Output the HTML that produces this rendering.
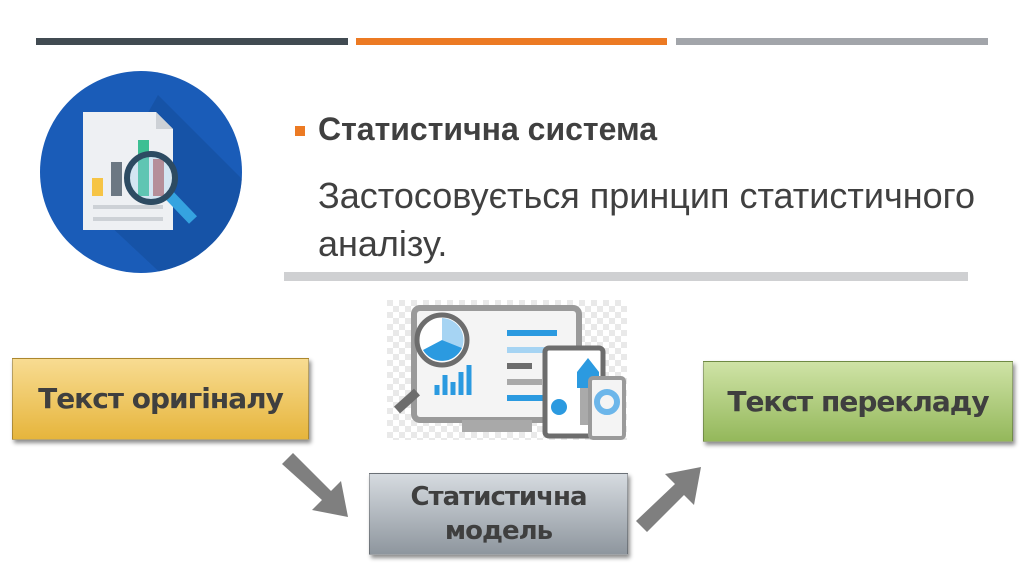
<!DOCTYPE html>
<html><head><meta charset="utf-8"><style>
body{margin:0;width:1024px;height:574px;background:#fff;position:relative;overflow:hidden;font-family:"Liberation Sans","DejaVu Sans",sans-serif}
.a{position:absolute}
.box{position:absolute;box-shadow:2px 3px 4px rgba(0,0,0,.45);border:1px solid rgba(0,0,0,.25);display:flex;align-items:center;justify-content:center;text-align:center;font-weight:bold;color:#3f3f3f;font-size:28px;line-height:34px;font-family:"DejaVu Sans","Liberation Sans",sans-serif;letter-spacing:-1px}
</style></head><body>
<div class="a" style="left:36px;top:38px;width:312px;height:7px;background:#414b52"></div>
<div class="a" style="left:356px;top:38px;width:311px;height:7px;background:#ec7a23"></div>
<div class="a" style="left:676px;top:38px;width:312px;height:7px;background:#a2a5aa"></div>

<svg class="a" style="left:38px;top:70px" width="206" height="206" viewBox="0 0 206 206">
<defs><clipPath id="c"><circle cx="103" cy="102" r="101"/></clipPath></defs>
<circle cx="103" cy="102" r="101" fill="#1a5cb8"/>
<polygon clip-path="url(#c)" points="120,25 210,115 210,210 130,210 55,140" fill="#15509f" opacity=".7"/>
<path d="M45 42 H118 L135 59 V160 H45 Z" fill="#eef0f3"/>
<path d="M118 42 V59 H135 Z" fill="#cdd1d6"/>
<rect x="54" y="108" width="11" height="18" fill="#f6c445"/>
<rect x="73" y="92" width="11" height="34" fill="#6c7883"/>
<rect x="100" y="70" width="11" height="56" fill="#3dbf93"/>
<rect x="115" y="89" width="11" height="37" fill="#c06b6b"/>
<rect x="55" y="135" width="70" height="4" fill="#cdd1d6"/>
<rect x="55" y="147" width="70" height="4" fill="#cdd1d6"/>
<line x1="132" y1="126" x2="155" y2="150" stroke="#35a3e0" stroke-width="11"/>
<circle cx="113" cy="108" r="24" fill="rgba(160,210,240,.35)" stroke="#2d4b62" stroke-width="6"/>
</svg>

<div class="a" style="left:295px;top:126px;width:10px;height:10px;background:#ec7a23"></div>
<div class="a" style="left:318px;top:111px;font-size:32px;font-weight:bold;color:#404040;white-space:nowrap">Статистична система</div>
<div class="a" style="left:318px;top:172px;font-size:36px;line-height:48px;color:#404040;width:700px;white-space:nowrap">Застосовується принцип статистичного<br>аналізу.</div>
<div class="a" style="left:284px;top:272px;width:684px;height:9px;background:#cfd0d2"></div>

<svg class="a" style="left:387px;top:300px" width="240" height="140" viewBox="0 0 240 140">
<defs><pattern id="p" width="12" height="12" patternUnits="userSpaceOnUse"><rect width="12" height="12" fill="#fff"/><rect width="6" height="6" fill="#e9e9e9"/><rect x="6" y="6" width="6" height="6" fill="#e9e9e9"/></pattern></defs>
<rect width="240" height="140" fill="url(#p)"/>
<rect x="27" y="8" width="165" height="112" rx="6" fill="#f4f4f4" stroke="#9a9a9a" stroke-width="6"/>
<rect x="75" y="120" width="70" height="12" fill="#a9a9a9"/>
<rect x="120" y="30" width="50" height="6" fill="#2b9ae0"/>
<rect x="120" y="47" width="40" height="6" fill="#a6d4f3"/>
<rect x="120" y="63" width="25" height="6" fill="#6d6d6d"/>
<rect x="120" y="79" width="35" height="6" fill="#a9a9a9"/>
<rect x="120" y="95" width="40" height="6" fill="#2b9ae0"/>
<path d="M50 95 V85 M58 95 V75 M66 95 V82 M74 95 V72 M82 95 V65" stroke="#2b9ae0" stroke-width="5"/>
<line x1="30" y1="92" x2="10" y2="110" stroke="#6d6d6d" stroke-width="9"/>
<circle cx="55" cy="40" r="25" fill="#fff" stroke="#6d6d6d" stroke-width="5"/>
<path d="M55 40 L55 18 A22 22 0 0 1 75 48 Z" fill="#a6d4f3"/><path d="M55 40 L75 48 A22 22 0 0 1 36 50 Z" fill="#2b9ae0"/>
<rect x="158" y="48" width="58" height="88" rx="4" fill="#fff" stroke="#6d6d6d" stroke-width="5"/>
<rect x="193" y="70" width="16" height="55" fill="#aaa"/><path d="M190 72 L201 58 L212 72 V88 H190 Z" fill="#2b9ae0"/>
<circle cx="172" cy="107" r="8" fill="#2b9ae0"/>
<rect x="203" y="78" width="34" height="60" rx="3" fill="#f4f4f4" stroke="#9a9a9a" stroke-width="4"/>
<circle cx="220" cy="102" r="10" fill="none" stroke="#6cb6ea" stroke-width="6"/>
</svg>

<div class="box" style="left:12px;top:358px;width:295px;height:80px;background:linear-gradient(#f8dc92,#e6b53c)">Текст оригіналу</div>
<div class="box" style="left:703px;top:361px;width:308px;height:79px;background:linear-gradient(#cfe3a6,#94b85b)">Текст перекладу</div>
<div class="box" style="left:369px;top:473px;width:257px;height:80px;background:linear-gradient(#d6dbe0,#8e969e);font-size:26px">Статистична<br>модель</div>

<svg class="a" style="left:0;top:0" width="1024" height="574">
<polygon points="282,464 293,453 331,491 341,481 348,517 312,510 322,500" fill="#7f7f7f"/>
<polygon points="636,521 647,532 684,495 694,505 701,467 665,474 675,484" fill="#7f7f7f"/>
</svg>
</body></html>
